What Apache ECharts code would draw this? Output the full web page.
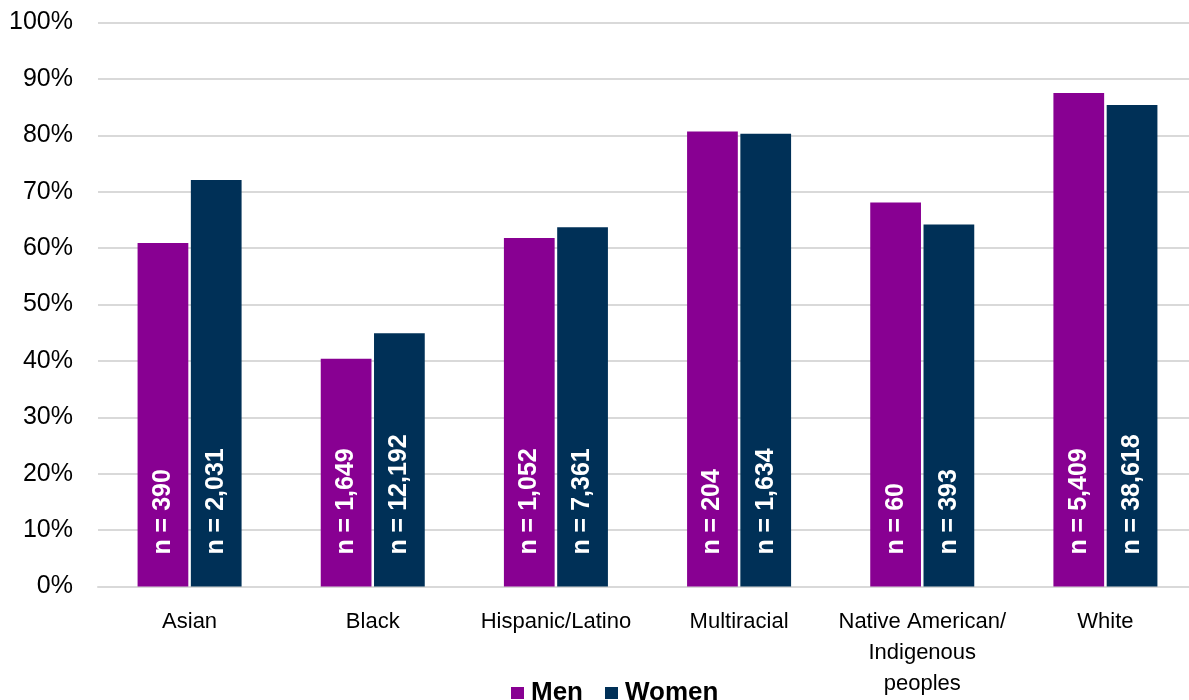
<!DOCTYPE html>
<html>
<head>
<meta charset="utf-8">
<script src="https://cdn.jsdelivr.net/npm/echarts@6/dist/echarts.min.js"></script>
<style>html,body{margin:0;padding:0;background:#fff}#c{width:1189px;height:700px}</style>
</head>
<body>
<div id="c"></div>
<script>
var categories = ['Asian', 'Black', 'Hispanic/Latino', 'Multiracial', 'Native American/\nIndigenous\npeoples', 'White'];
var menValues = [60.9, 40.4, 61.8, 80.7, 68.1, 87.5];
var womenValues = [72.1, 44.9, 63.7, 80.3, 64.2, 85.4];
var menN = ['390', '1,649', '1,052', '204', '60', '5,409'];
var womenN = ['2,031', '12,192', '7,361', '1,634', '393', '38,618'];
var yTicks = [0, 10, 20, 30, 40, 50, 60, 70, 80, 90, 100];

var chart = echarts.init(document.getElementById('c'));
function barLabel(arr) {
  return {
    show: true,
    position: 'insideBottom',
    distance: 32,
    rotate: 90,
    align: 'left',
    verticalAlign: 'middle',
    color: '#ffffff',
    fontFamily: 'Liberation Sans, Arial, sans-serif',
    fontWeight: 'bold',
    fontSize: 25,
    formatter: function (p) { return 'n = ' + arr[p.dataIndex]; }
  };
}
chart.setOption({
  animation: false,
  grid: { left: 98, width: 1099, top: 22.6, bottom: 113.4, outerBoundsMode: 'none' },
  legend: {
    data: ['Men', 'Women'],
    left: 511,
    top: 680,
    padding: 0,
    icon: 'rect',
    itemWidth: 13,
    itemHeight: 12,
    itemGap: 22,
    textStyle: { fontFamily: 'Liberation Sans, Arial, sans-serif', fontWeight: 'bold', fontSize: 26, color: '#000', padding: [0, 0, 0, 2], lineHeight: 26 }
  },
  xAxis: {
    type: 'category',
    data: categories,
    axisTick: { show: false },
    axisLine: { show: true, lineStyle: { color: '#d9d9d9', width: 2 } },
    axisLabel: { interval: 0, margin: 20, fontFamily: 'Liberation Sans, Arial, sans-serif', fontSize: 22, lineHeight: 31, color: '#000' }
  },
  yAxis: {
    type: 'value',
    min: 0,
    max: 100,
    interval: 10,
    axisLine: { show: false },
    axisTick: { show: false },
    splitLine: { show: true, lineStyle: { color: '#d9d9d9', width: 2 } },
    axisLabel: {
      margin: 25,
      fontFamily: 'Liberation Sans, Arial, sans-serif',
      fontSize: 25,
      color: '#000',
      customValues: yTicks,
      formatter: function (v) { return v + '%'; }
    }
  },
  series: [
    {
      name: 'Men', type: 'bar', data: menValues,
      barWidth: '27.7%', barGap: '5%',
      itemStyle: { color: '#880092' },
      label: barLabel(menN)
    },
    {
      name: 'Women', type: 'bar', data: womenValues,
      barWidth: '27.7%', barGap: '5%',
      itemStyle: { color: '#003057' },
      label: barLabel(womenN)
    }
  ]
});
</script>
</body>
</html>
